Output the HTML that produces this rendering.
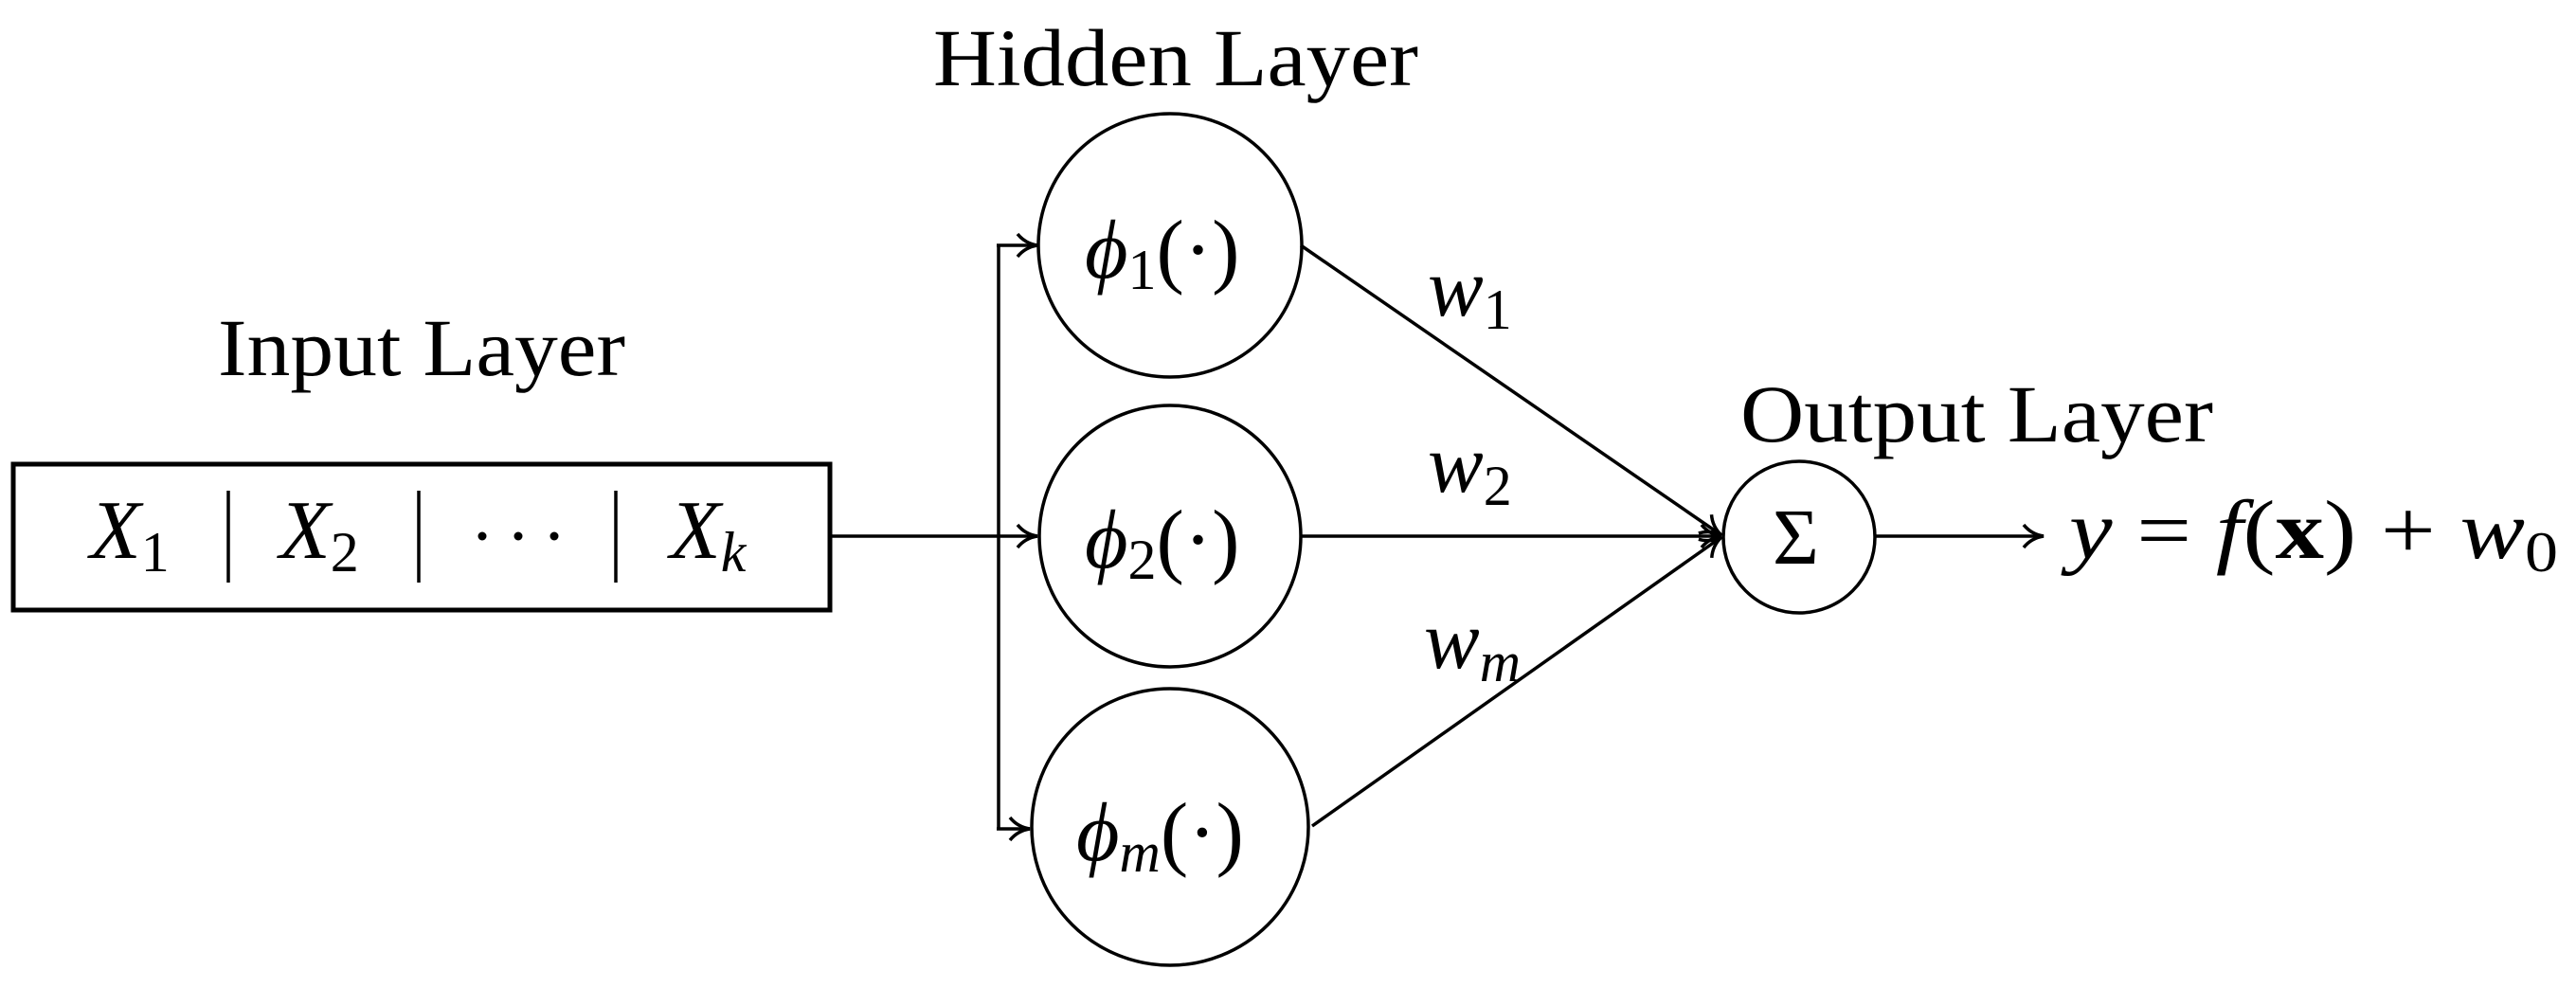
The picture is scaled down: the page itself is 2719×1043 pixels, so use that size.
<!DOCTYPE html>
<html><head><meta charset="utf-8"><style>
html,body{margin:0;padding:0;background:#fff;}
svg{display:block;}
text{font-family:"Liberation Serif",serif;fill:#000;}
.i{font-style:italic;}
</style></head><body>
<svg width="2719" height="1043" viewBox="0 0 2719 1043" xmlns="http://www.w3.org/2000/svg">
<defs>
<marker id="ar" viewBox="0 0 30 30" refX="27" refY="15" markerWidth="30" markerHeight="30" markerUnits="userSpaceOnUse" orient="auto">
<path d="M6,3 Q14,13 27,15 Q14,17 6,27" fill="none" stroke="#000" stroke-width="3.5"/>
</marker>
</defs>
<g stroke="#000" fill="none" stroke-width="3.5">
<rect x="14" y="490" width="862" height="154" stroke-width="5"/>
<line x1="241" y1="518" x2="241" y2="615"/>
<line x1="442" y1="518" x2="442" y2="615"/>
<line x1="650" y1="518" x2="650" y2="615"/>
<circle cx="1235" cy="259" r="139"/>
<circle cx="1235" cy="566" r="138"/>
<circle cx="1235" cy="873" r="146"/>
<circle cx="1899" cy="567" r="80"/>
<line x1="876" y1="566" x2="1095" y2="566" marker-end="url(#ar)"/>
<line x1="1054" y1="259" x2="1054" y2="875"/>
<line x1="1052" y1="259" x2="1095" y2="259" marker-end="url(#ar)"/>
<line x1="1052" y1="875" x2="1087" y2="875" marker-end="url(#ar)"/>
<line x1="1373" y1="259" x2="1817" y2="565" marker-end="url(#ar)"/>
<line x1="1373" y1="566" x2="1817" y2="566" marker-end="url(#ar)"/>
<line x1="1385" y1="872" x2="1817" y2="567" marker-end="url(#ar)"/>
<line x1="1979" y1="566" x2="2157" y2="566" marker-end="url(#ar)"/>
</g>
<g fill="#000">
<circle cx="509" cy="566" r="4.5"/>
<circle cx="547" cy="566" r="4.5"/>
<circle cx="585" cy="566" r="4.5"/>
</g>
<text x="985" y="90" font-size="86" textLength="512" lengthAdjust="spacingAndGlyphs">Hidden Layer</text>
<text x="230" y="396" font-size="86" textLength="430" lengthAdjust="spacingAndGlyphs">Input Layer</text>
<text x="1837" y="466" font-size="86" textLength="499" lengthAdjust="spacingAndGlyphs">Output Layer</text>
<text x="95" y="589" font-size="88" class="i">X<tspan font-style="normal" font-size="60" dy="14">1</tspan></text>
<text x="295" y="589" font-size="88" class="i">X<tspan font-style="normal" font-size="60" dy="14">2</tspan></text>
<text x="707" y="589" font-size="88" class="i">X<tspan font-size="60" dy="14">k</tspan></text>
<text x="1145" y="293" font-size="88"><tspan font-style="italic">ϕ</tspan><tspan font-size="60" dy="12">1</tspan><tspan dy="-12">(·)</tspan></text>
<text x="1145" y="599" font-size="88"><tspan font-style="italic">ϕ</tspan><tspan font-size="60" dy="12">2</tspan><tspan dy="-12">(·)</tspan></text>
<text x="1136" y="908" font-size="88"><tspan font-style="italic">ϕ</tspan><tspan font-style="italic" font-size="60" dy="12">m</tspan><tspan dy="-12">(·)</tspan></text>
<text x="1507" y="333" font-size="88"><tspan font-style="italic">w</tspan><tspan font-size="60" dy="14">1</tspan></text>
<text x="1507" y="519" font-size="88"><tspan font-style="italic">w</tspan><tspan font-size="60" dy="14">2</tspan></text>
<text x="1503" y="705" font-size="88"><tspan font-style="italic">w</tspan><tspan font-style="italic" font-size="60" dy="14">m</tspan></text>
<text x="1871" y="595" font-size="84">Σ</text>
<text x="2184" y="589" font-size="88" textLength="516" lengthAdjust="spacingAndGlyphs"><tspan font-style="italic">y</tspan> = <tspan font-style="italic">f</tspan>(<tspan font-weight="bold">x</tspan>) + <tspan font-style="italic">w</tspan><tspan font-size="60" dy="14">0</tspan></text>
</svg>
</body></html>
